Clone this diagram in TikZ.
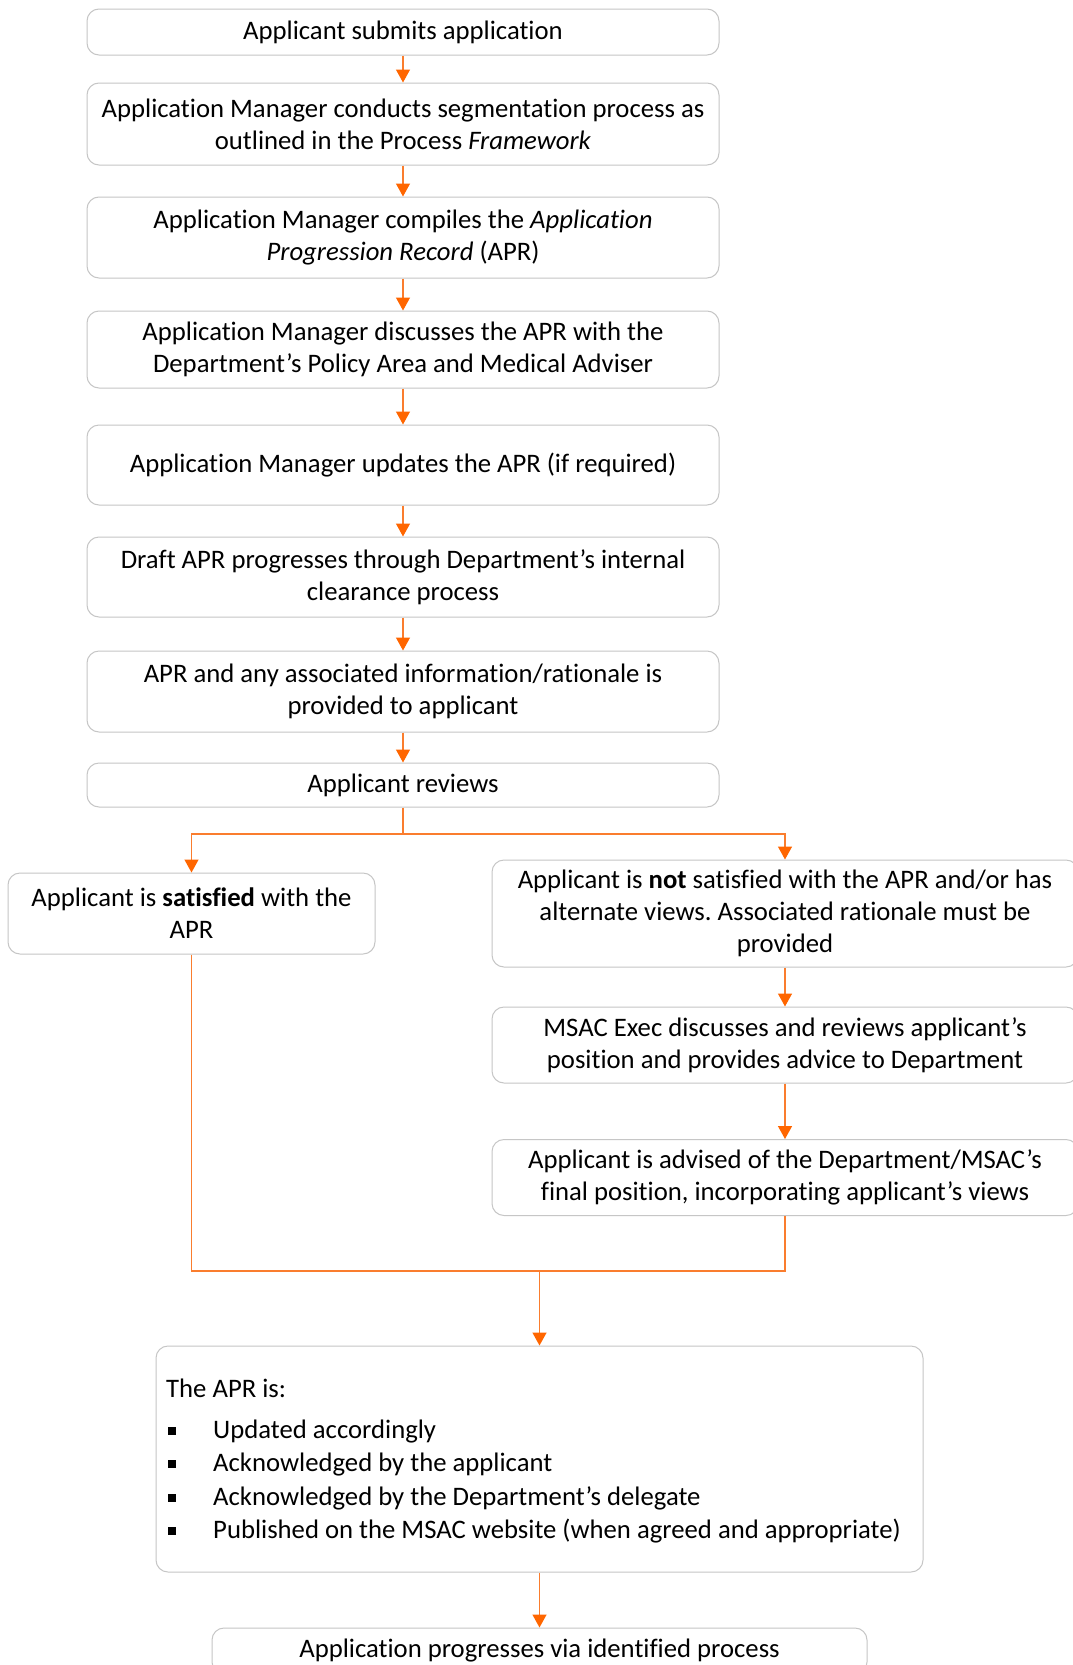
\documentclass[tikz,border=0pt]{standalone}
\usepackage{fontspec}
\setmainfont{Carlito}[Ligatures=NoCommon]
\usetikzlibrary{arrows.meta,calc}
\definecolor{boxline}{HTML}{C6C6C6}
\definecolor{flow}{HTML}{FA7D2E}
\definecolor{flowhead}{HTML}{FF6600}
\newcommand{\sqbullet}{\hspace*{2pt}\makebox[45pt][l]{\rule[3pt]{8pt}{8pt}}}
\frenchspacing
\begin{document}
\begin{tikzpicture}[x=1pt,y=-1pt,
  stepbox/.style={draw=boxline, line width=1pt, rounded corners=12pt, fill=white,
    align=center, inner sep=0pt, font=\fontsize{26.7}{32}\selectfont},
  listtext/.style={anchor=base west, inner sep=0pt, font=\fontsize{26.7}{32}\selectfont},
  link/.style={draw=flow, line width=1.4pt},
  arrow/.style={link, -{Triangle[width=14pt,length=13pt,color=flowhead]}, shorten >=0pt}
]
\useasboundingbox (0,0) rectangle (1073,1665);
\fill[white] (0,0) rectangle (1073,1665);
\clip (0,0) rectangle (1073,1665);

% main column
\node[stepbox, minimum width=632pt, minimum height=46pt] (b1) at (403,32)
  {Applicant submits application};
\node[stepbox, minimum width=632pt, minimum height=82pt] (b2) at (403,124)
  {Application Manager conducts segmentation process as\\ outlined in the Process \textit{Framework}};
\node[stepbox, minimum width=632pt, minimum height=81pt] (b3) at (403,237.5)
  {Application Manager compiles the \textit{Application}\\ \textit{Progression Record} (APR)};
\node[stepbox, minimum width=632pt, minimum height=77pt] (b4) at (403,349.5)
  {Application Manager discusses the APR with the\\ Department’s Policy Area and Medical Adviser};
\node[stepbox, minimum width=632pt, minimum height=80pt] (b5) at (403,465)
  {Application Manager updates the APR (if required)};
\node[stepbox, minimum width=632pt, minimum height=80pt] (b6) at (403,577)
  {Draft APR progresses through Department’s internal\\ clearance process};
\node[stepbox, minimum width=632pt, minimum height=81pt] (b7) at (403,691.5)
  {APR and any associated information/rationale is\\ provided to applicant};
\node[stepbox, minimum width=632pt, minimum height=44pt] (b8) at (403,785)
  {Applicant reviews};

% left branch
\node[stepbox, minimum width=367pt, minimum height=81pt] (sat) at (191.5,913.5)
  {Applicant is \textbf{satisfied} with the\\ APR};

% right branch
\node[stepbox, minimum width=586pt, minimum height=107pt] (r1) at (785,913.5)
  {Applicant is \textbf{not} satisfied with the APR and/or has\\ alternate views. Associated rationale must be\\ provided};
\node[stepbox, minimum width=586pt, minimum height=76pt] (r2) at (785,1045)
  {MSAC Exec discusses and reviews applicant’s\\ position and provides advice to Department};
\node[stepbox, minimum width=586pt, minimum height=76pt] (r3) at (785,1177.5)
  {Applicant is advised of the Department/MSAC’s\\ final position, incorporating applicant’s views};

% outcome box with list
\node[stepbox, minimum width=767pt, minimum height=226pt] (apr) at (539.5,1459) {};
\node[listtext] (aprhead) at (166,1397) {The APR is:};
\node[listtext] (item1) at (166,1438) {\sqbullet Updated accordingly};
\node[listtext] (item2) at (166,1471) {\sqbullet Acknowledged by the applicant};
\node[listtext] (item3) at (166,1505) {\sqbullet Acknowledged by the Department’s delegate};
\node[listtext] (item4) at (166,1538) {\sqbullet Published on the MSAC website (when agreed and appropriate)};

\node[stepbox, minimum width=655pt, minimum height=46pt] (final) at (539.5,1651)
  {Application progresses via identified process};

% connectors
\draw[arrow] (b1.south) -- (b2.north);
\draw[arrow] (b2.south) -- (b3.north);
\draw[arrow] (b3.south) -- (b4.north);
\draw[arrow] (b4.south) -- (b5.north);
\draw[arrow] (b5.south) -- (b6.north);
\draw[arrow] (b6.south) -- (b7.north);
\draw[arrow] (b7.south) -- (b8.north);

\coordinate (split) at (403,834);
\draw[link] (b8.south) -- (split);
\draw[arrow] (split) -| (sat.north);
\draw[arrow] (split) -| (r1.north);

\draw[arrow] (r1.south) -- (r2.north);
\draw[arrow] (r2.south) -- (r3.north);

\coordinate (merge) at (539.5,1271);
\draw[link] (sat.south) |- (merge);
\draw[link] (r3.south) |- (merge);
\draw[arrow] (merge) -- (apr.north);
\draw[arrow] (apr.south) -- (final.north);
\end{tikzpicture}
\end{document}
